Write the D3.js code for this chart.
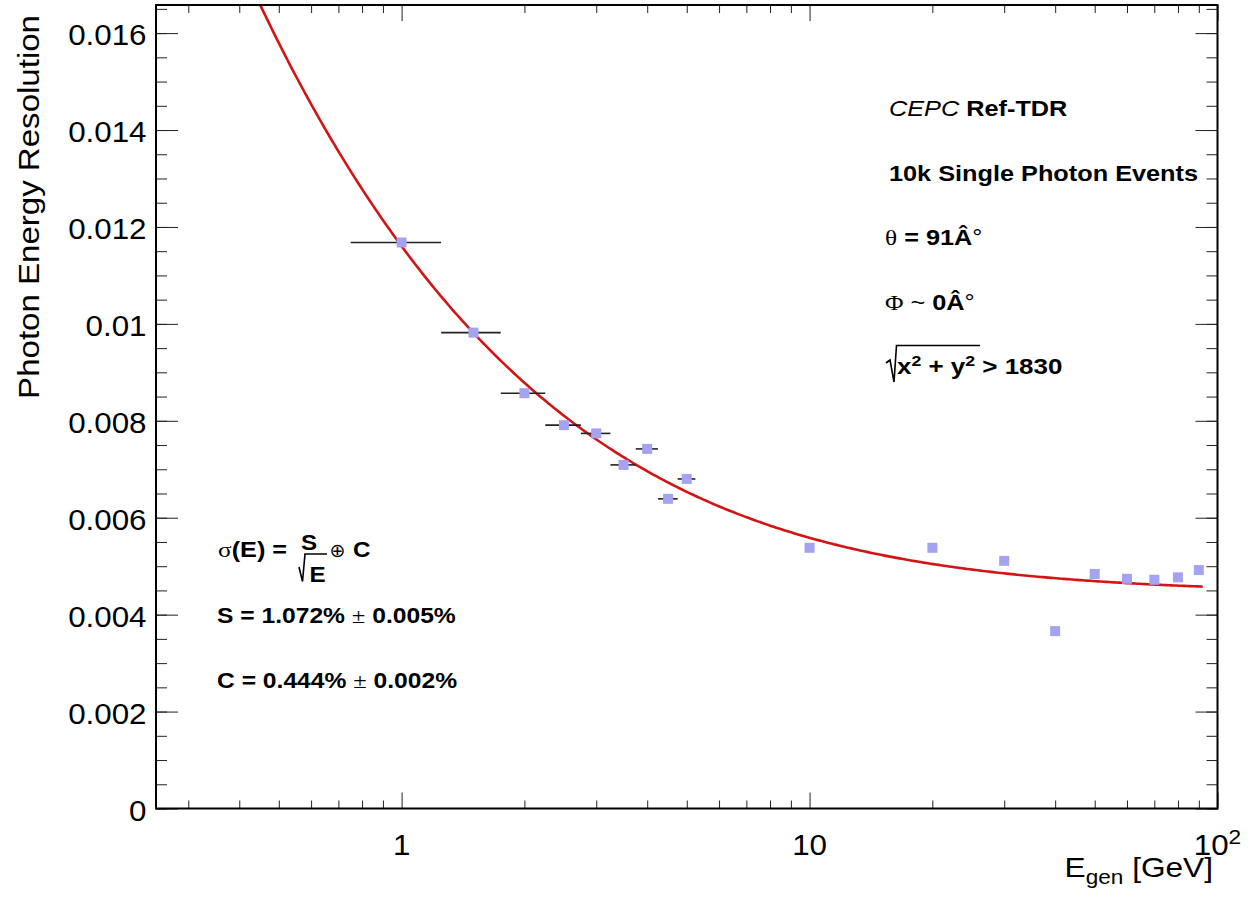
<!DOCTYPE html>
<html><head><meta charset="utf-8">
<script src="https://cdn.jsdelivr.net/npm/d3@7"></script>
<style>
body{margin:0;background:#fff}
svg{display:block}
text{font-family:"Liberation Sans",Arial,Helvetica,sans-serif;white-space:pre;fill:#000}
</style>
</head><body>
<svg id="c" width="1255" height="900"></svg>
<script>
// ---------------- data ----------------
const energies   = [1, 1.5, 2, 2.5, 3, 3.5, 4, 4.5, 5, 10, 20, 30, 40, 50, 60, 70, 80, 90];
const resolution = [0.01168, 0.00982, 0.00857, 0.00791, 0.00774, 0.00709, 0.00742, 0.00639, 0.00680,
                    0.00538, 0.00538, 0.00511, 0.00366, 0.00484, 0.00474, 0.00472, 0.00477, 0.00492];
const energyErr  = [0.25, 0.25, 0.25, 0.25, 0.25, 0.25, 0.25, 0.25, 0.25,
                    0.25, 0.25, 0.25, 0.25, 0.25, 0.25, 0.25, 0.25, 0.25];
const xMajorTicks = [1, 10, 100];
const xTickLabels = ["1", "10", "10"];
const xTickExponents = ["", "", "2"];
const xMinorTicks = [0.3, 0.4, 0.5, 0.6, 0.7, 0.8, 0.9, 2, 3, 4, 5, 6, 7, 8, 9, 20, 30, 40, 50, 60, 70, 80, 90];
const yMajorTicks = [0, 0.002, 0.004, 0.006, 0.008, 0.010, 0.012, 0.014, 0.016];
const yTickLabels = ["0", "0.002", "0.004", "0.006", "0.008", "0.01", "0.012", "0.014", "0.016"];
const yMinorTicks = d3.range(0, 34).map(i => i * 0.0005);
// fit: sigma(E) = S/sqrt(E) (+) C
const fitS = 0.01072, fitC = 0.00444;
const fitRange = [0.25, 92];
const xDomain = [0.25, 100];
const yDomain = [0, 0.01658];

// ---------------- layout ----------------
const L = 156, R = 1217.5, T = 5, B = 808.5;
const svg = d3.select("#c");
const x = d3.scaleLog().domain(xDomain).range([L, R]);
const y = d3.scaleLinear().domain(yDomain).range([B, T]);

svg.append("defs").append("clipPath").attr("id", "clip")
  .append("rect").attr("x", L).attr("y", T).attr("width", R - L).attr("height", B - T);

// ticks
function ticks(axis, tr, vals, size) {
  const g = svg.append("g").attr("transform", tr)
    .call(axis.tickValues(vals).tickSize(size).tickFormat(""));
  g.select(".domain").remove();
  g.selectAll("line").attr("stroke", "#222").attr("stroke-width", 1);
  return g;
}
ticks(d3.axisBottom(x), `translate(0,${B})`, xMajorTicks, -16);
ticks(d3.axisBottom(x), `translate(0,${B})`, xMinorTicks, -8);
ticks(d3.axisTop(x), `translate(0,${T})`, xMajorTicks, -16);
ticks(d3.axisTop(x), `translate(0,${T})`, xMinorTicks, -8);
ticks(d3.axisLeft(y), `translate(${L},0)`, yMajorTicks, -22);
ticks(d3.axisLeft(y), `translate(${L},0)`, yMinorTicks.filter(v => v <= yDomain[1]), -11);
ticks(d3.axisRight(y), `translate(${R},0)`, yMajorTicks, -22);
ticks(d3.axisRight(y), `translate(${R},0)`, yMinorTicks.filter(v => v <= yDomain[1]), -11);

// y tick labels
const kTick = 1.08;
const yLab = svg.append("g");
yMajorTicks.forEach((v, i) => {
  yLab.append("g").attr("transform", `translate(146.5,${y(v) + 12})scale(${kTick},1)`)
    .append("text").attr("font-size", 29).attr("text-anchor", "end").text(yTickLabels[i]);
});
// x tick labels
xMajorTicks.forEach((v, i) => {
  const t = svg.append("g").attr("transform", `translate(${x(v)},855)scale(${kTick},1)`)
    .append("text").attr("font-size", 29).attr("text-anchor", "middle");
  t.append("tspan").text(xTickLabels[i]);
  if (xTickExponents[i]) t.append("tspan").attr("font-size", 21).attr("dy", -11).text(xTickExponents[i]);
});

// axis titles
const yt = svg.append("g").attr("transform", "translate(39,15)rotate(-90)scale(1.14,1)")
  .append("text").attr("font-size", 29).attr("text-anchor", "end").text("Photon Energy Resolution");
const xt = svg.append("g").attr("transform", "translate(1213,877)scale(1.13,1)")
  .append("text").attr("font-size", 28).attr("text-anchor", "end");
xt.append("tspan").text("E");
xt.append("tspan").attr("font-size", 20).attr("dy", 7).text("gen");
xt.append("tspan").attr("dy", -7).text(" [GeV]");

// fit curve
const fitE = d3.range(0, 401).map(i => fitRange[0] * Math.pow(fitRange[1] / fitRange[0], i / 400));
const fitLine = d3.line().x(e => x(e)).y(e => y(Math.hypot(fitS / Math.sqrt(e), fitC)));
svg.append("path").attr("clip-path", "url(#clip)").datum(fitE)
  .attr("d", fitLine).attr("fill", "none").attr("stroke", "#d41414").attr("stroke-width", 2.6);

// error bars and markers
const pts = energies.map((e, i) => ({e, r: resolution[i], ex: energyErr[i]}));
svg.append("g").selectAll("line").data(pts).join("line")
  .attr("x1", d => x(d.e - d.ex)).attr("x2", d => x(d.e + d.ex))
  .attr("y1", d => y(d.r)).attr("y2", d => y(d.r))
  .attr("stroke", "#222").attr("stroke-width", 1.6);
svg.append("g").selectAll("rect").data(pts).join("rect")
  .attr("x", d => x(d.e) - 5).attr("y", d => y(d.r) - 5)
  .attr("width", 10).attr("height", 10).attr("fill", "#a3a3f2");

// frame
svg.append("rect").attr("x", L).attr("y", T).attr("width", R - L).attr("height", B - T)
  .attr("fill", "none").attr("stroke", "#000").attr("stroke-width", 2);

// ---------------- annotations ----------------
const SERIF = '"Liberation Serif","DejaVu Serif",serif';
function label(px, py, k, size, parts, anchor) {
  const t = svg.append("g").attr("transform", `translate(${px},${py})scale(${k},1)`)
    .append("text").attr("font-size", size).attr("text-anchor", anchor || "start");
  parts.forEach(p => {
    const s = t.append("tspan").text(p.t);
    if (p.b) s.attr("font-weight", "bold");
    if (p.i) s.attr("font-style", "italic");
    if (p.f) s.attr("font-family", p.f);
    if (p.s) s.attr("font-size", p.s);
    if (p.dy) s.attr("dy", p.dy);
  });
  return t;
}
const kA = 1.15;
label(889, 116, kA, 22, [{t: "CEPC", i: 1}, {t: " Ref-TDR", b: 1}]);
label(889, 181, kA, 22, [{t: "10k Single Photon Events", b: 1}]);
label(885, 245, kA, 22, [{t: "θ", f: SERIF}, {t: " = 91Â", b: 1}, {t: "°"}]);
label(885, 310, kA, 22, [{t: "Φ", f: SERIF}, {t: " ~ "}, {t: "0Â", b: 1}, {t: "°"}]);
svg.append("path").attr("d", "M886,363 L890,360 L894,382 L896.5,345.5 L980,345.5")
  .attr("fill", "none").attr("stroke", "#000").attr("stroke-width", 1.6);
label(897, 374, 1.18, 22, [{t: "x", b: 1}, {t: "2", b: 1, s: 15, dy: -8}, {t: " + ", b: 1, dy: 8},
  {t: "y", b: 1}, {t: "2", b: 1, s: 15, dy: -8}, {t: " > 1830", b: 1, dy: 8}]);

// left formula
label(218, 557, 1.15, 22, [{t: "σ", f: SERIF}, {t: "(E) =", b: 1}]);
label(309, 550, 1.1, 22, [{t: "S", b: 1}], "middle");
svg.append("path").attr("d", "M299,567 L302.5,581.5 L305,554 L327,554")
  .attr("fill", "none").attr("stroke", "#000").attr("stroke-width", 1.6);
label(317.5, 582, 1.1, 22, [{t: "E", b: 1}], "middle");
label(337.5, 557, 1.0, 19, [{t: "⊕", f: '"DejaVu Sans",sans-serif'}], "middle");
label(353, 557, 1.1, 22, [{t: "C", b: 1}]);
label(217, 623, 1.12, 22, [{t: "S = 1.072% ", b: 1}, {t: "±", f: SERIF}, {t: " 0.005%", b: 1}]);
label(217, 688, 1.12, 22, [{t: "C = 0.444% ", b: 1}, {t: "±", f: SERIF}, {t: " 0.002%", b: 1}]);
</script>
</body></html>
